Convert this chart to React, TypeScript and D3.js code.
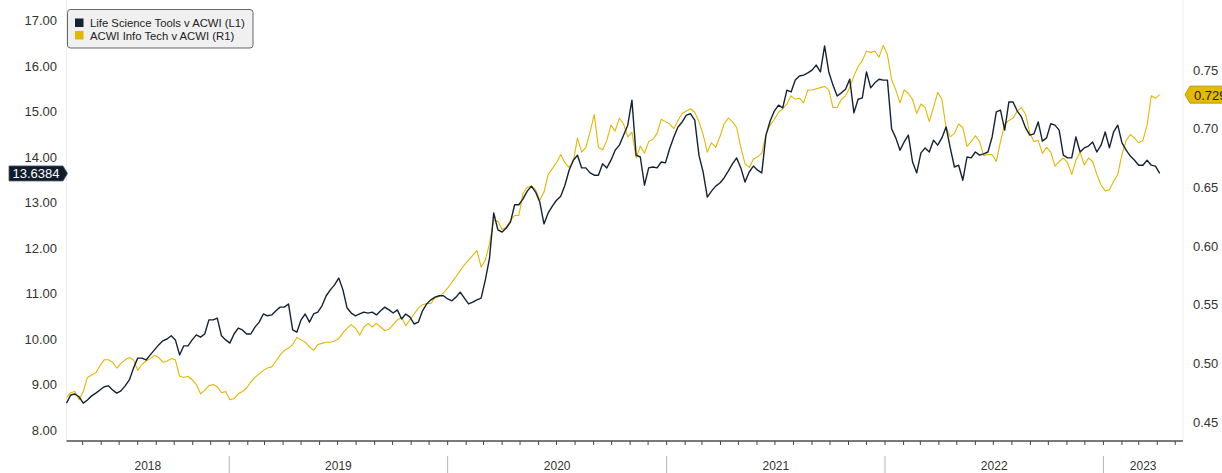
import React from "react";
import * as d3 from "d3";

// Weekly observations, first week 2018-04-04
const startDate = new Date(2018, 3, 4);
const axisEnd = new Date(2023, 4, 14);

const lifeScienceTools = [
  8.59, 8.77, 8.79, 8.73, 8.59, 8.66, 8.75, 8.81, 8.88, 8.95,
  8.97, 8.88, 8.81, 8.86, 8.97, 9.10, 9.36, 9.58, 9.58, 9.54,
  9.65, 9.76, 9.87, 9.96, 10.00, 10.07, 9.98, 9.65, 9.85, 9.85,
  9.98, 10.09, 10.04, 10.11, 10.42, 10.42, 10.46, 10.07, 9.98, 9.91,
  10.11, 10.24, 10.20, 10.11, 10.11, 10.26, 10.37, 10.55, 10.51, 10.53,
  10.62, 10.70, 10.70, 10.77, 10.20, 10.15, 10.42, 10.55, 10.37, 10.55,
  10.59, 10.73, 10.95, 11.08, 11.19, 11.34, 11.08, 10.68, 10.57, 10.51,
  10.55, 10.59, 10.57, 10.59, 10.53, 10.62, 10.70, 10.64, 10.57, 10.64,
  10.44, 10.55, 10.48, 10.33, 10.37, 10.62, 10.77, 10.86, 10.92, 10.95,
  10.95, 10.88, 10.84, 10.92, 11.03, 10.90, 10.77, 10.81, 10.86, 10.90,
  11.30, 11.78, 12.77, 12.40, 12.35, 12.44, 12.57, 12.95, 12.95, 13.08,
  13.25, 13.36, 13.23, 13.01, 12.53, 12.77, 12.92, 13.05, 13.14, 13.38,
  13.71, 13.93, 14.04, 13.76, 13.76, 13.65, 13.60, 13.60, 13.85, 13.76,
  13.93, 14.15, 14.26, 14.48, 14.70, 15.25, 14.04, 14.00, 13.38, 13.76,
  13.78, 13.76, 13.89, 13.87, 14.18, 14.44, 14.66, 14.77, 14.92, 14.95,
  14.81, 14.04, 13.67, 13.12, 13.25, 13.36, 13.43, 13.54, 13.69, 13.85,
  13.98, 13.76, 13.45, 13.67, 13.80, 13.71, 13.65, 14.48, 14.79, 15.01,
  15.14, 15.08, 15.47, 15.43, 15.69, 15.78, 15.80, 15.85, 15.91, 16.02,
  15.87, 16.44, 15.87, 15.58, 15.34, 15.41, 15.49, 15.71, 14.97, 15.27,
  15.30, 15.87, 15.52, 15.63, 15.71, 15.69, 15.69, 14.62, 14.42, 14.15,
  14.33, 14.48, 13.89, 13.65, 14.09, 14.20, 14.11, 14.37, 14.26, 14.42,
  14.66, 14.20, 13.78, 13.82, 13.49, 14.00, 13.98, 14.11, 14.04, 14.07,
  14.11, 14.44, 14.99, 15.03, 14.59, 15.21, 15.21, 15.01, 14.88, 14.64,
  14.48, 14.51, 14.77, 14.35, 14.42, 14.73, 14.70, 14.59, 14.04, 13.98,
  13.98, 14.44, 14.11, 14.20, 14.24, 14.33, 14.11, 14.26, 14.55, 14.20,
  14.55, 14.70, 14.31, 14.15, 14.02, 13.93, 13.82, 13.82, 13.93, 13.82, 13.80, 13.6384,
];

const acwiInfoTech = [
  0.471, 0.475, 0.476, 0.469, 0.476, 0.488, 0.490, 0.492, 0.498, 0.503,
  0.503, 0.501, 0.496, 0.500, 0.503, 0.505, 0.503, 0.494, 0.499, 0.502,
  0.504, 0.507, 0.505, 0.501, 0.502, 0.504, 0.503, 0.489, 0.488, 0.489,
  0.486, 0.482, 0.474, 0.477, 0.481, 0.482, 0.480, 0.475, 0.476, 0.469,
  0.470, 0.474, 0.476, 0.479, 0.484, 0.488, 0.491, 0.494, 0.496, 0.497,
  0.502, 0.507, 0.511, 0.513, 0.516, 0.522, 0.520, 0.518, 0.514, 0.511,
  0.516, 0.517, 0.518, 0.518, 0.519, 0.521, 0.526, 0.530, 0.533, 0.530,
  0.524, 0.531, 0.534, 0.531, 0.534, 0.531, 0.528, 0.529, 0.533, 0.537,
  0.539, 0.532, 0.537, 0.542, 0.547, 0.550, 0.551, 0.551, 0.556, 0.557,
  0.560, 0.564, 0.569, 0.574, 0.579, 0.584, 0.588, 0.592, 0.596, 0.582,
  0.588, 0.602, 0.622, 0.621, 0.614, 0.616, 0.622, 0.626, 0.626, 0.645,
  0.650, 0.651, 0.648, 0.639, 0.646, 0.661, 0.666, 0.671, 0.678, 0.671,
  0.667, 0.672, 0.692, 0.680, 0.684, 0.697, 0.712, 0.684, 0.682, 0.690,
  0.703, 0.698, 0.709, 0.704, 0.693, 0.697, 0.675, 0.685, 0.679, 0.689,
  0.691, 0.696, 0.708, 0.706, 0.704, 0.700, 0.707, 0.713, 0.715, 0.717,
  0.714, 0.706, 0.695, 0.680, 0.688, 0.684, 0.693, 0.704, 0.709, 0.706,
  0.701, 0.684, 0.670, 0.667, 0.674, 0.676, 0.679, 0.695, 0.703, 0.708,
  0.714, 0.717, 0.721, 0.728, 0.725, 0.726, 0.722, 0.733, 0.733, 0.734,
  0.735, 0.736, 0.733, 0.718, 0.718, 0.725, 0.728, 0.735, 0.745, 0.753,
  0.758, 0.766, 0.765, 0.766, 0.761, 0.771, 0.763, 0.742, 0.733, 0.722,
  0.733, 0.730, 0.725, 0.713, 0.721, 0.718, 0.706, 0.718, 0.731, 0.725,
  0.701, 0.693, 0.696, 0.704, 0.701, 0.685, 0.689, 0.694, 0.689, 0.677,
  0.678, 0.678, 0.672, 0.689, 0.704, 0.707, 0.709, 0.715, 0.718, 0.712,
  0.696, 0.689, 0.690, 0.679, 0.684, 0.680, 0.668, 0.672, 0.675, 0.671,
  0.661, 0.673, 0.680, 0.669, 0.675, 0.672, 0.661, 0.652, 0.647, 0.648,
  0.655, 0.661, 0.678, 0.690, 0.695, 0.692, 0.688, 0.690, 0.703, 0.728, 0.726, 0.729,
];

const leftTicks = [8, 9, 10, 11, 12, 13, 14, 15, 16, 17];
const rightTicks = [0.45, 0.5, 0.55, 0.6, 0.65, 0.7, 0.75];
const seriesNames = ["Life Science Tools v ACWI (L1)", "ACWI Info Tech v ACWI (R1)"];
const lastLeftLabel = "13.6384";
const lastRightLabel = "0.729";

const W = 1222;
const H = 473;
const DARK = "#142233";
const GOLD = "#e2b800";
const TEXT = "#333333";
const FONT = "'Liberation Sans', Arial, sans-serif";

export default function App() {
  const dates = lifeScienceTools.map((_, i) => d3.timeDay.offset(startDate, 7 * i));
  const x = d3.scaleTime().domain([startDate, axisEnd]).range([66.5, 1183]);
  const yL = d3.scaleLinear().domain([8, 17]).range([430, 20.5]);
  const yR = d3.scaleLinear().domain([0.45, 0.75]).range([422, 70]);
  const axisY = 441;

  const lineL = d3
    .line<number>()
    .x((_, i) => x(dates[i]))
    .y((d) => yL(d));
  const lineR = d3
    .line<number>()
    .x((_, i) => x(dates[i]))
    .y((d) => yR(d));

  const months = d3.timeMonth.range(d3.timeMonth.ceil(startDate), axisEnd);
  const years = d3.timeYear.range(d3.timeYear.ceil(startDate), axisEnd);
  const bounds = [startDate, ...years, axisEnd];
  const yearLabels = bounds.slice(0, -1).map((b, i) => ({
    label: String(b.getFullYear()),
    cx: (x(b) + x(bounds[i + 1])) / 2,
  }));

  const lastL = yL(lifeScienceTools[lifeScienceTools.length - 1]);
  const lastR = yR(acwiInfoTech[acwiInfoTech.length - 1]);

  return (
    <div style={{ position: "absolute", left: 0, top: 0 }}>
      <svg width={W} height={H} style={{ display: "block", background: "#fff" }} fontFamily={FONT}>
        {/* plot borders */}
        <line x1={66.5} x2={66.5} y1={0} y2={axisY} stroke="#eeeeee" />
        <line x1={1183} x2={1183} y1={0} y2={axisY} stroke="#eeeeee" />

        {/* left axis labels */}
        {leftTicks.map((t) => (
          <text key={t} x={57} y={yL(t)} textAnchor="end" dominantBaseline="central" fontSize={13} fill={TEXT}>
            {t.toFixed(2)}
          </text>
        ))}
        {/* right axis labels */}
        {rightTicks.map((t) => (
          <text key={t} x={1193} y={yR(t)} textAnchor="start" dominantBaseline="central" fontSize={13} fill={TEXT}>
            {t.toFixed(2)}
          </text>
        ))}

        {/* series */}
        <path d={lineR(acwiInfoTech) || ""} fill="none" stroke={GOLD} strokeWidth={1.1} strokeLinejoin="round" />
        <path d={lineL(lifeScienceTools) || ""} fill="none" stroke={DARK} strokeWidth={1.4} strokeLinejoin="round" />

        {/* x axis */}
        <line x1={66.5} x2={1183} y1={axisY} y2={axisY} stroke="#7a7a7a" strokeWidth={2} />
        {months.map((m) => (
          <line key={+m} x1={x(m)} x2={x(m)} y1={axisY} y2={axisY + 4} stroke="#444" strokeWidth={1} />
        ))}
        {years.map((yv) => (
          <line key={+yv} x1={x(yv)} x2={x(yv)} y1={456} y2={473} stroke="#b5b5b5" strokeWidth={1} />
        ))}
        {yearLabels.map((l) => (
          <text key={l.label} x={l.cx} y={466} textAnchor="middle" dominantBaseline="central" fontSize={12} fill={TEXT}>
            {l.label}
          </text>
        ))}

        {/* last value tags */}
        <path
          d={`M9,${lastL - 7.5} H63 L67.5,${lastL} L63,${lastL + 7.5} H9 Z`}
          fill="#0e1c2c"
          stroke="#4a5868"
          strokeWidth={0.8}
        />
        <text x={36} y={lastL + 0.5} textAnchor="middle" dominantBaseline="central" fontSize={13} fill="#ffffff">
          {lastLeftLabel}
        </text>
        <path
          d={`M1185,${lastR} L1190,${lastR - 8.5} H1230 V${lastR + 8.5} H1190 Z`}
          fill="#e4bb00"
          stroke="#a98a00"
          strokeWidth={0.8}
        />
        <text x={1194} y={lastR + 0.5} textAnchor="start" dominantBaseline="central" fontSize={13} fill="#222">
          {lastRightLabel}
        </text>

        {/* legend */}
        <rect x={67.5} y={9.5} width={185.5} height={38.5} rx={3} fill="#f0f0f0" stroke="#666" strokeWidth={1} />
        <rect x={75} y={18.5} width={8.5} height={8.5} fill={DARK} />
        <rect x={75} y={31} width={8.5} height={8.5} fill={GOLD} />
        <text x={90} y={23} dominantBaseline="central" fontSize={11.3} fill="#222">
          {seriesNames[0]}
        </text>
        <text x={90} y={35.5} dominantBaseline="central" fontSize={11.3} fill="#222">
          {seriesNames[1]}
        </text>
      </svg>
    </div>
  );
}
